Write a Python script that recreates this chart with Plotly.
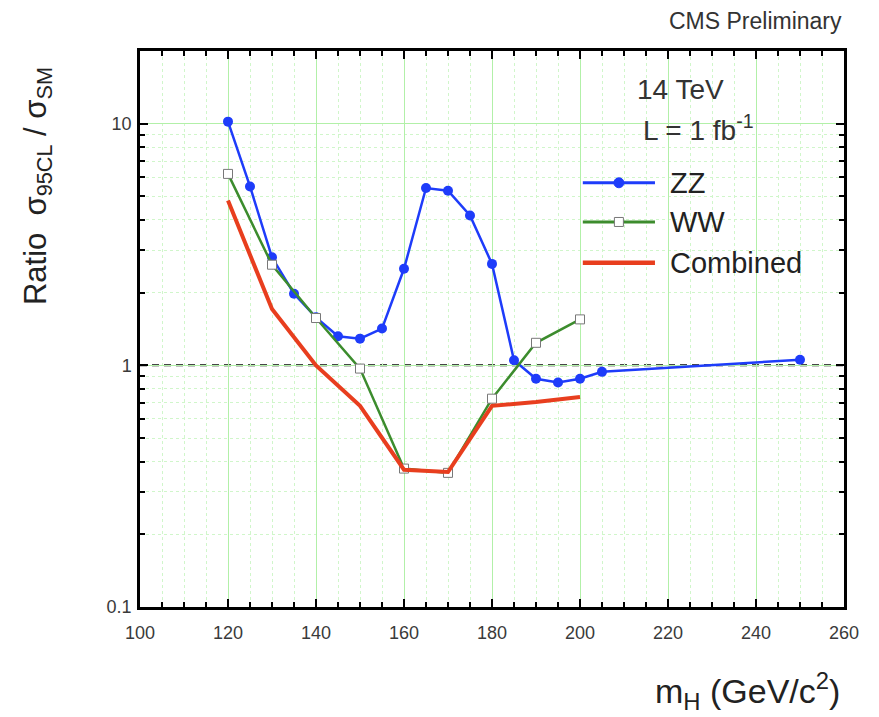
import plotly.graph_objects as go

# Higgs mass points (GeV/c^2) and 95% CL limit / SM cross-section ratios
mass_zz = [120, 125, 130, 135, 140, 145, 150, 155, 160, 165, 170, 175, 180,
           185, 190, 195, 200, 205, 250]
ratio_zz = [10.2, 5.5, 2.8, 1.98, 1.58, 1.32, 1.29, 1.42, 2.51, 5.42, 5.28,
            4.17, 2.63, 1.05, 0.88, 0.85, 0.88, 0.94, 1.055]

mass_ww = [120, 130, 140, 150, 160, 170, 180, 190, 200]
ratio_ww = [6.2, 2.61, 1.57, 0.97, 0.374, 0.359, 0.728, 1.24, 1.55]

mass_comb = [120, 130, 140, 150, 160, 170, 180, 190, 200]
ratio_comb = [4.81, 1.71, 1.0, 0.68, 0.37, 0.362, 0.68, 0.705, 0.74]

series_names = ["ZZ", "WW", "Combined"]
sm_level = 1.0
x_ticks = [100, 120, 140, 160, 180, 200, 220, 240, 260]
y_ticks = [0.1, 1, 10]
y_tick_text = ["0.1", "1", "10"]

FONT = "Liberation Sans, Arial, sans-serif"
GRID_MAJOR = "rgb(178,240,168)"
GRID_MINOR = "rgb(208,246,202)"

BLUE = "rgb(30,60,250)"
GREEN = "rgb(60,140,45)"
RED = "rgb(232,62,30)"

styles = {
    "ZZ": dict(line=dict(color=BLUE, width=2.5),
               marker=dict(symbol="circle", size=10, color=BLUE)),
    "WW": dict(line=dict(color=GREEN, width=2.5),
               marker=dict(symbol="square", size=9, color="white",
                           line=dict(color="rgb(120,120,120)", width=1))),
    "Combined": dict(line=dict(color=RED, width=4)),
}

fig = go.Figure()
fig.add_trace(go.Scatter(x=mass_zz, y=ratio_zz, name="ZZ",
                         mode="lines+markers", **styles["ZZ"]))
fig.add_trace(go.Scatter(x=mass_ww, y=ratio_ww, name="WW",
                         mode="lines+markers", **styles["WW"]))
fig.add_trace(go.Scatter(x=mass_comb, y=ratio_comb, name="Combined",
                         mode="lines", **styles["Combined"]))

# SM expectation reference line
fig.add_shape(type="line", xref="paper", x0=0, x1=1, yref="y",
              y0=sm_level, y1=sm_level, layer="between",
              line=dict(color="rgb(10,10,10)", width=2, dash="7px,5px"))

# Legend key: long line samples with centred markers
leg_x0, leg_x1, leg_text_x = 0.629, 0.7315, 0.75
leg_rows = [0.763, 0.6925, 0.619]
for name, ly in zip(series_names, leg_rows):
    st = styles[name]
    fig.add_shape(type="line", xref="paper", yref="paper", x0=leg_x0,
                  x1=leg_x1, y0=ly, y1=ly, layer="above",
                  line=dict(color=st["line"]["color"],
                            width=st["line"]["width"] + 0.5))
    if "marker" in st:
        mk = st["marker"]
        half = mk["size"] / 2
        shape_type = "circle" if mk["symbol"] == "circle" else "rect"
        outline = mk.get("line", {}).get("color", mk["color"])
        fig.add_shape(type=shape_type, xref="paper", yref="paper",
                      xsizemode="pixel", ysizemode="pixel",
                      xanchor=(leg_x0 + leg_x1) / 2, yanchor=ly,
                      x0=-half, x1=half, y0=-half, y1=half, layer="above",
                      fillcolor=mk["color"],
                      line=dict(color=outline, width=1))
    fig.add_annotation(text=name, xref="paper", yref="paper", x=leg_text_x,
                       y=ly, xanchor="left", yanchor="middle",
                       showarrow=False,
                       font=dict(family=FONT, size=29, color="#222"))

fig.update_xaxes(
    range=[100, 260], tickvals=x_ticks, ticks="inside", ticklen=8,
    tickwidth=1.5, tickcolor="black", showline=True, linecolor="black",
    linewidth=2.5, mirror="ticks", showgrid=True, gridcolor=GRID_MAJOR,
    gridwidth=1, zeroline=False, ticklabelstandoff=8,
    tickfont=dict(family=FONT, size=18, color="#3a3a3a"),
    minor=dict(dtick=5, ticks="inside", ticklen=5, tickcolor="black",
               showgrid=True, gridcolor=GRID_MINOR, griddash="dot",
               gridwidth=1),
)
fig.update_yaxes(
    type="log", range=[-1, 1.30103], tickvals=y_ticks, ticktext=y_tick_text,
    ticks="inside", ticklen=8, tickwidth=1.5, tickcolor="black",
    showline=True, linecolor="black", linewidth=2.5, mirror="ticks",
    showgrid=True, gridcolor=GRID_MAJOR, gridwidth=1, zeroline=False,
    ticklabelstandoff=2,
    tickfont=dict(family=FONT, size=18, color="#3a3a3a"),
    minor=dict(dtick="D1", ticks="inside", ticklen=5, tickcolor="black",
               showgrid=True, gridcolor=GRID_MINOR, griddash="dot",
               gridwidth=1),
)

annotations = [
    dict(text="CMS Preliminary", xref="paper", yref="paper", x=1.0,
         y=1.0, yshift=30, xanchor="right", yanchor="middle",
         showarrow=False, font=dict(family=FONT, size=23, color="#333")),
    dict(text="14 TeV", xref="paper", yref="paper", x=0.703, y=0.93,
         xanchor="left", yanchor="middle", showarrow=False,
         font=dict(family=FONT, size=28, color="#333")),
    dict(text="L = 1 fb<sup>-1</sup>", xref="paper", yref="paper",
         x=0.712, y=0.862, xanchor="left", yanchor="middle",
         showarrow=False, font=dict(family=FONT, size=28, color="#333")),
    dict(text="m<sub>H</sub> (GeV/c<sup>2</sup>)", xref="paper",
         yref="paper", x=1.0, xshift=-2, y=0, yshift=-84, xanchor="right",
         yanchor="middle", showarrow=False,
         font=dict(family=FONT, size=34, color="#222")),
    dict(text="Ratio  σ<sub>95CL</sub> / σ<sub>SM</sub>", xref="paper",
         yref="paper", x=0, xshift=-102, y=0.757, xanchor="center",
         yanchor="middle", textangle=-90, showarrow=False,
         font=dict(family=FONT, size=31, color="#222")),
]

fig.update_layout(
    width=879, height=717,
    margin=dict(l=140, r=35, t=51, b=110),
    paper_bgcolor="white", plot_bgcolor="white",
    showlegend=False,
    annotations=list(fig.layout.annotations) + annotations,
)

fig.write_html("out.html")
